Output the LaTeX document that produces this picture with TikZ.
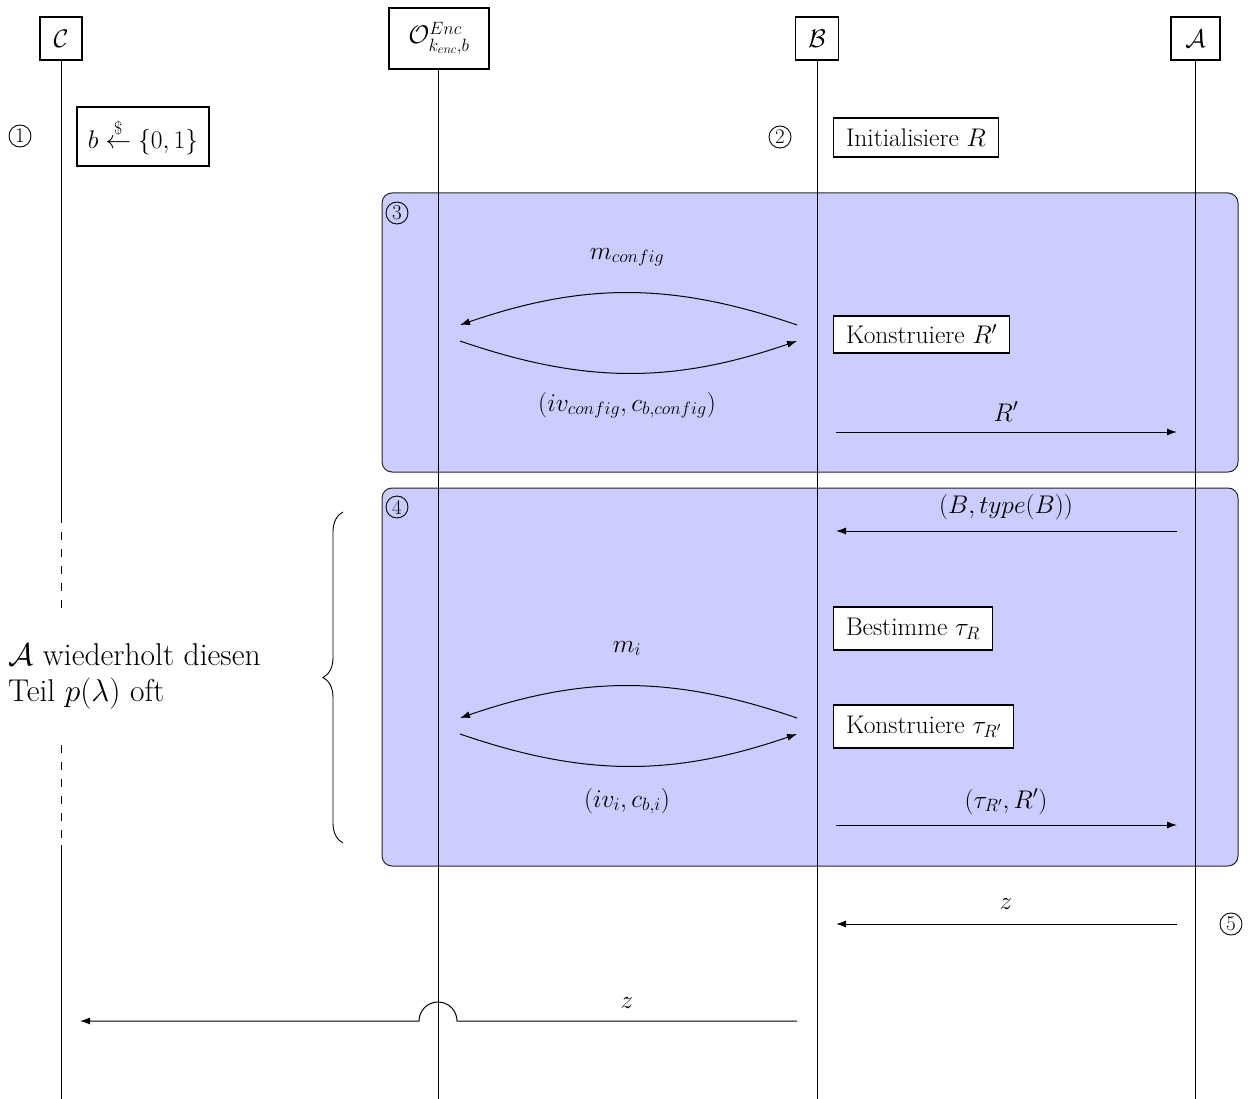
\RequirePackage{fix-cm}
\documentclass[tikz,border=0pt]{standalone}
\usepackage{amsmath}
\usetikzlibrary{arrows.meta,decorations.pathreplacing,calc}

\begin{document}
\begin{tikzpicture}[x=1pt,y=-1pt,
  every node/.style={font=\fontsize{25.5}{30.6}\selectfont},
  head/.style={draw,fill=white,line width=1.1pt,minimum height=43pt,inner sep=4pt},
  actbox/.style={draw,fill=white,line width=1.1pt,anchor=west,inner xsep=12.5pt,inner ysep=4pt},
  phase/.style={draw=black!85,fill=blue!20,rounded corners=10pt,line width=1pt,inner sep=0pt},
  num/.style={circle,draw,line width=0.9pt,minimum size=22pt,inner sep=0pt,font=\fontsize{21}{24}\selectfont},
  msg/.style={line width=1pt,-{Latex[length=10pt,width=7pt]}},
  life/.style={line width=1pt},
  lbl/.style={anchor=base,inner sep=0pt},
]
\useasboundingbox (0,0) rectangle (1260,1099);

% protocol phases
\node[phase,minimum width=856pt,minimum height=279pt] (p3) at (810,332.5) {};
\node[phase,minimum width=856pt,minimum height=378pt] (p4) at (810,677) {};

% parties
\node[head,minimum width=42pt] (hc) at (61,38.5) {$\mathcal{C}$};
\node[head,minimum width=100pt,minimum height=61pt] (ho) at (439,38.5) {$\mathcal{O}^{Enc}_{k_{enc},b}$};
\node[head,minimum width=43pt] (hb) at (817,38.5) {$\mathcal{B}$};
\node[head,minimum width=49pt] (ha) at (1195.5,38.5) {$\mathcal{A}$};

% lifeline end points
\coordinate (ec) at (61,1099);
\coordinate (eo) at (438,1099);
\coordinate (eb) at (817,1099);
\coordinate (ea) at (1195,1099);
\coordinate (c1) at (61,515);
\coordinate (c2) at (61,610);
\coordinate (c3) at (61,745);
\coordinate (c4) at (61,845);

% lifelines
\draw[life] (hc.south) -- (c1);
\draw[life,dash pattern=on 8pt off 9pt] (c1) -- (c2);
\draw[life,dash pattern=on 8pt off 9pt] (c3) -- (c4);
\draw[life] (c4) -- (ec);
\draw[life] (ho.south -| eo) -- (eo);
\draw[life] (hb.south) -- (eb);
\draw[life] (ha.south -| ea) -- (ea);

% step numbers
\node[num] (n1) at (20,136) {1};
\node[num] (n2) at (780,137) {2};
\node[num] (n3) at (397,213) {3};
\node[num] (n4) at (397,507) {4};
\node[num] (n5) at (1231,924) {5};

% step 1 and 2
\node[head,minimum width=132pt,minimum height=59pt] (pick) at (143,136.5) {$b \overset{\$}{\leftarrow} \{0,1\}$};
\node[actbox,minimum height=39pt] (init) at (833,137.5) {Initialisiere $R$};

% step 3
\coordinate (b3u) at (797,325);
\coordinate (o3u) at (460,325);
\coordinate (o3d) at (460,341);
\coordinate (b3d) at (797,341);
\draw[msg] (b3u) to[out=161,in=19] (o3u);
\draw[msg] (o3d) to[out=-19,in=-161] (b3d);
\node[lbl] (mcfg) at (627,259) {$m_{config}$};
\node[lbl] (ccfg) at (627,411) {$(iv_{config}, c_{b,config})$};
\node[actbox,minimum height=37pt] (kr) at (833,334.5) {Konstruiere $R'$};
\coordinate (b3r) at (836,432);
\coordinate (a3r) at (1177,432);
\draw[msg] (b3r) -- (a3r);
\node[lbl] (rp) at (1006,421) {$R'$};

% step 4
\coordinate (a4q) at (1177,531);
\coordinate (b4q) at (836,531);
\draw[msg] (a4q) -- (b4q);
\node[lbl] (btype) at (1006,513) {$(B, type(B))$};
\node[actbox,minimum height=43pt] (best) at (833,628.5) {Bestimme $\tau_R$};
\node[actbox,minimum height=43pt] (kt) at (833,726.5) {Konstruiere $\tau_{R'}$};
\coordinate (b4u) at (797,718);
\coordinate (o4u) at (460,718);
\coordinate (o4d) at (460,734);
\coordinate (b4d) at (797,734);
\draw[msg] (b4u) to[out=161,in=19] (o4u);
\draw[msg] (o4d) to[out=-19,in=-161] (b4d);
\node[lbl] (mi) at (627,652) {$m_i$};
\node[lbl] (ci) at (627,807) {$(iv_i, c_{b,i})$};
\coordinate (b4r) at (836,825);
\coordinate (a4r) at (1177,825);
\draw[msg] (b4r) -- (a4r);
\node[lbl] (tr) at (1006,808) {$(\tau_{R'}, R')$};

% repetition note
\coordinate (br1) at (343,843);
\coordinate (br2) at (343,512);
\draw[line width=0.9pt,decorate,decoration={brace,amplitude=20pt}] (br1) -- (br2);
\node[anchor=west,align=left,inner sep=0pt,font=\fontsize{31.5}{36}\selectfont] (note) at (8,676)
  {$\mathcal{A}$ wiederholt diesen\\Teil $p(\lambda)$ oft};

% step 5
\coordinate (a5) at (1177,924);
\coordinate (b5) at (836,924);
\draw[msg] (a5) -- (b5);
\node[lbl] (z1) at (1006,909) {$z$};
\coordinate (b6) at (797,1021);
\coordinate (hop) at (457,1021);
\coordinate (c6) at (80,1021);
\draw[msg] (b6) -- (hop) arc[start angle=0,end angle=180,radius=19pt] -- (c6);
\node[lbl] (z2) at (627,1008) {$z$};
\end{tikzpicture}
\end{document}
